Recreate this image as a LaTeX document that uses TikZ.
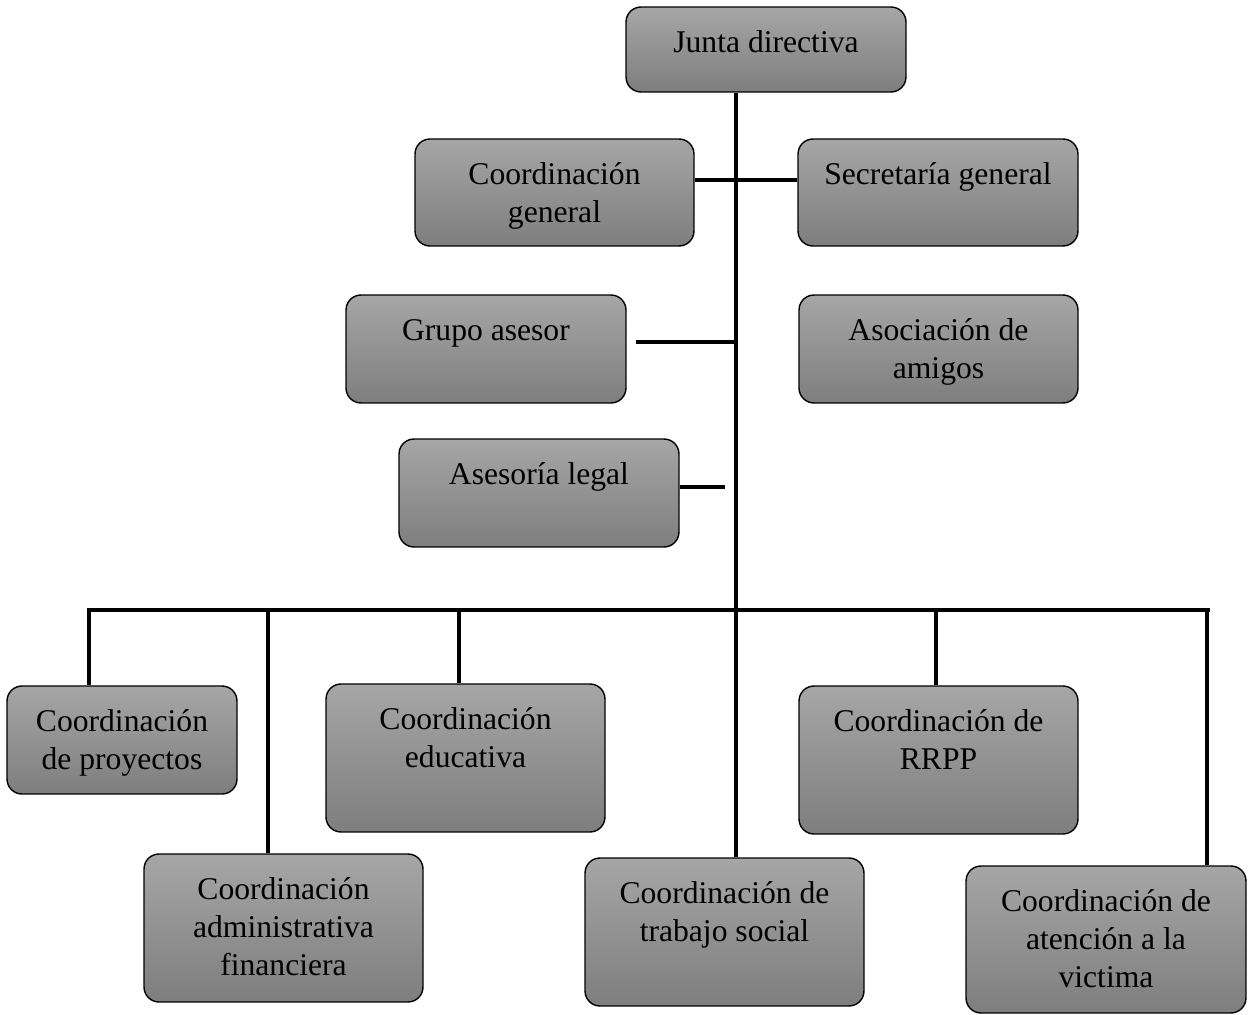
\documentclass[tikz,border=0pt]{standalone}
\usepackage{fontspec}
\setmainfont{Liberation Serif}
\usetikzlibrary{calc}
\definecolor{grisclaro}{RGB}{166,166,166}
\definecolor{grisoscuro}{RGB}{126,126,126}
\newcommand{\caja}[3]{\parbox[t][#2][t]{#1}{\centering\fontsize{18}{21.6}\selectfont\vspace*{10.6pt}\strut #3}}

\begin{document}
\begin{tikzpicture}[x=0.02cm,y=-0.02cm]
      \tikzstyle{cargo}=[draw,rounded corners=0.3cm,inner sep=0pt,line width=0.8pt,top color=grisclaro,bottom color=grisoscuro]
      \tikzstyle{linea}=[line width=2.2pt]
      \useasboundingbox (0,0) rectangle (1249,1015);

      \node[cargo] (jd)  at (766,49.5)   {\caja{5.6cm}{1.7cm}{Junta directiva}};
      \node[cargo] (cg)  at (554.5,192.5) {\caja{5.58cm}{2.14cm}{Coordinación\\general}};
      \node[cargo] (sg)  at (938,192.5)   {\caja{5.6cm}{2.14cm}{Secretaría general}};
      \node[cargo] (ga)  at (486,349)     {\caja{5.6cm}{2.16cm}{Grupo asesor}};
      \node[cargo] (aa)  at (938.5,349)   {\caja{5.58cm}{2.16cm}{Asociación de\\amigos}};
      \node[cargo] (al)  at (539,493)     {\caja{5.6cm}{2.16cm}{Asesoría legal}};
      \node[cargo] (cp)  at (122,740)     {\caja{4.6cm}{2.16cm}{Coordinación\\de proyectos}};
      \node[cargo] (ce)  at (465.5,758)   {\caja{5.58cm}{2.96cm}{Coordinación\\educativa}};
      \node[cargo] (cr)  at (938.5,760)   {\caja{5.58cm}{2.96cm}{Coordinación de\\RRPP}};
      \node[cargo] (caf) at (283.5,928)   {\caja{5.58cm}{2.96cm}{Coordinación\\administrativa\\financiera}};
      \node[cargo] (cts) at (724.5,932)   {\caja{5.58cm}{2.96cm}{Coordinación de\\trabajo social}};
      \node[cargo] (cav) at (1106,939.5)  {\caja{5.6cm}{2.94cm}{Coordinación de\\atención a la\\victima}};

      % tronco y ramas
      \coordinate (tronco) at (736,610);
      \coordinate (bi) at (87,610);
      \coordinate (bd) at (1210,610);
      \draw[linea] (tronco |- jd.south) -- (tronco |- cts.north);
      \draw[linea] ([yshift=.25cm]cg.east) -- ([yshift=.25cm]sg.west);
      \path ([xshift=.18cm,yshift=.14cm]ga.east) coordinate (g1);
      \draw[linea] (g1) -- (g1 -| tronco);
      \draw[linea] ([yshift=.12cm]al.east) -- ++(45,0);
      \draw[linea] (bi) -- (bd);
      \foreach \x/\n in {89/cp,268/caf,459/ce,936/cr,1207/cav}
      {
        \coordinate (b\n) at (\x,610);
        \draw[linea] (b\n) -- (b\n |- \n.north);
      }
\end{tikzpicture}
\end{document}
